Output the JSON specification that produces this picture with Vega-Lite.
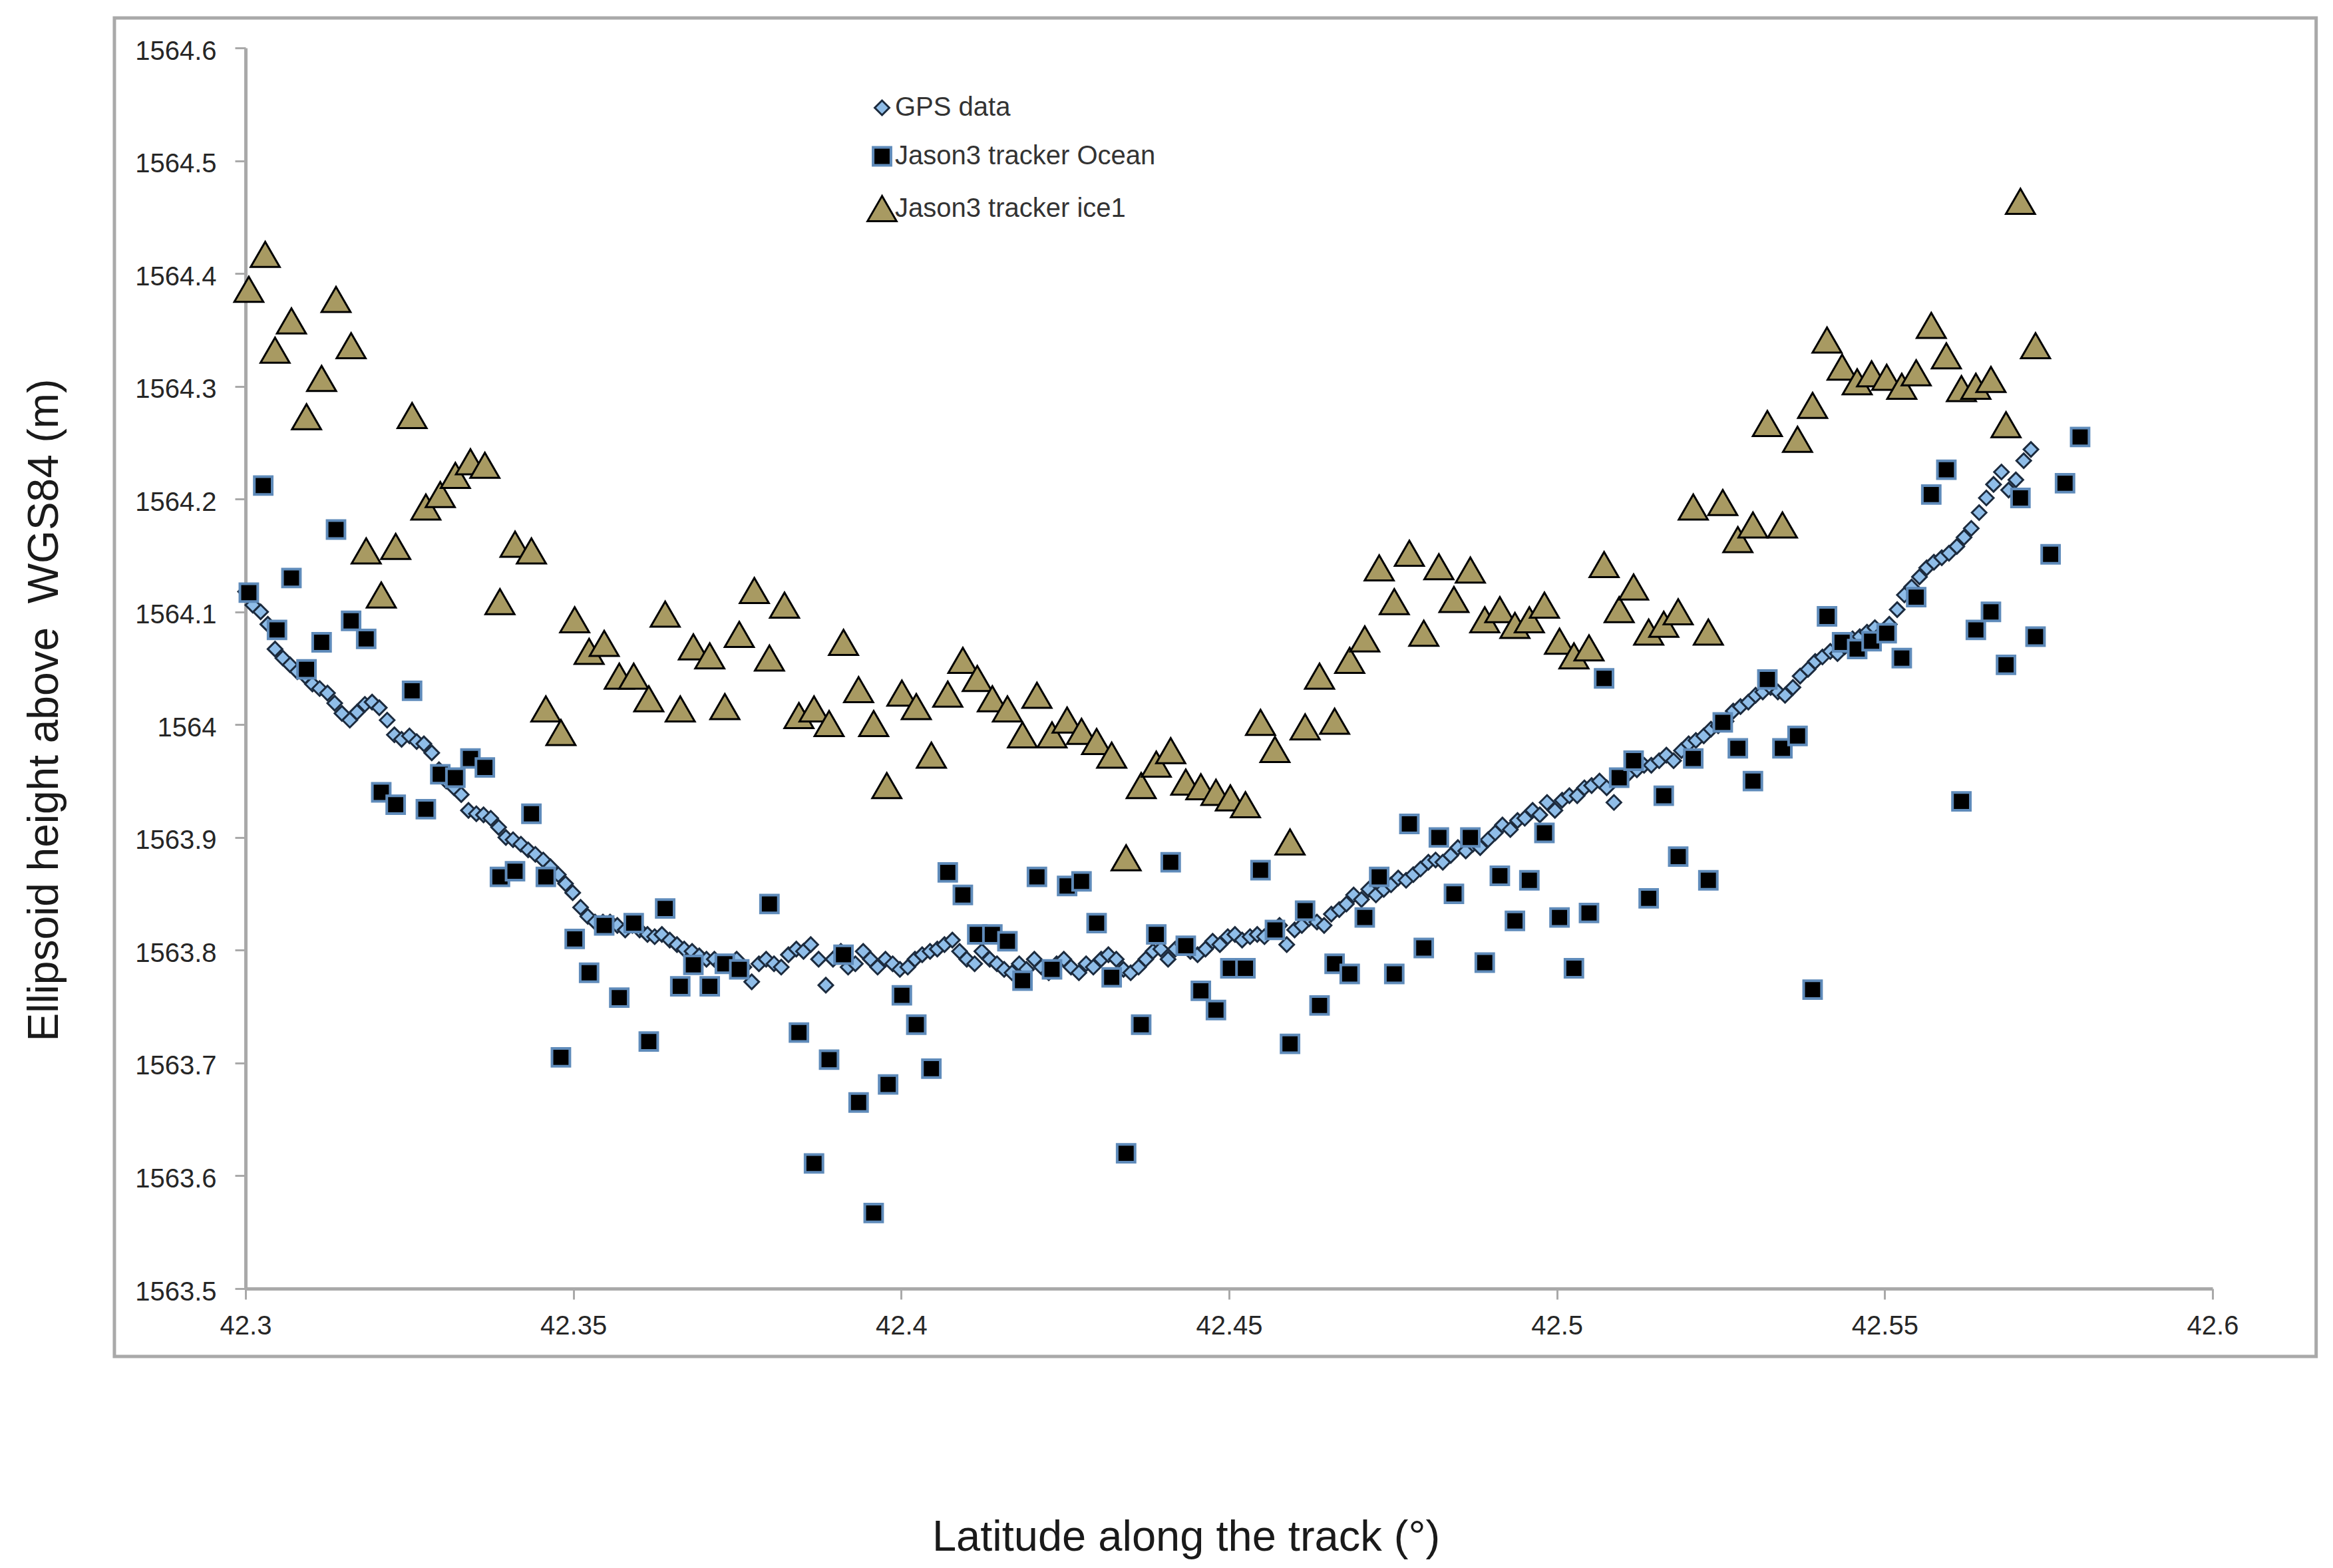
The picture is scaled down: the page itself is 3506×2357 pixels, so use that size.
{
  "$schema": "https://vega.github.io/schema/vega-lite/v6.json",
  "width": 2956,
  "height": 1865,
  "autosize": {"type": "none"},
  "padding": {"left": 369, "top": 72, "right": 181, "bottom": 420},
  "background": "white",
  "config": {
    "view": {"stroke": null},
    "font": "Liberation Sans"
  },
  "layer": [
    {
      "data": {"values": [{}]},
      "mark": {"type": "rect", "filled": false, "stroke": "#a9a9a9", "strokeWidth": 5},
      "encoding": {
        "x": {
          "datum": 42.28, "type": "quantitative",
          "scale": {"domain": [42.3, 42.6], "nice": false, "zero": false},
          "axis": {
            "title": "Latitude along the track (°)",
            "values": [42.3, 42.35, 42.4, 42.45, 42.5, 42.55, 42.6],
            "format": ".2~f",
            "grid": false,
            "domainColor": "#a9a9a9", "domainWidth": 5,
            "tickColor": "#a9a9a9", "tickWidth": 3, "tickSize": 16,
            "labelFont": "Liberation Sans", "labelFontSize": 40, "labelColor": "#262626",
            "labelPadding": 20, "labelFlush": false, "labelOverlap": false,
            "titleFont": "Liberation Sans", "titleFontSize": 65, "titleFontWeight": "normal", "titleColor": "#1a1a1a",
            "titleX": 1413, "titleY": 373, "titleBaseline": "middle", "titleAlign": "center"
          }
        },
        "x2": {"datum": 42.6158},
        "y": {
          "datum": 1563.4398, "type": "quantitative",
          "scale": {"domain": [1563.5, 1564.6], "nice": false, "zero": false},
          "axis": {
            "title": "Ellipsoid height above \u00a0WGS84 (m)",
            "values": [1563.5, 1563.6, 1563.7, 1563.8, 1563.9, 1564, 1564.1, 1564.2, 1564.3, 1564.4, 1564.5, 1564.6],
            "format": ".1~f",
            "grid": false,
            "domainColor": "#a9a9a9", "domainWidth": 5,
            "tickColor": "#a9a9a9", "tickWidth": 3, "tickSize": 16,
            "labelFont": "Liberation Sans", "labelFontSize": 40, "labelColor": "#262626",
            "labelPadding": 28, "labelOffset": 5, "labelOverlap": false,
            "titleFont": "Liberation Sans", "titleFontSize": 64, "titleFontWeight": "normal", "titleColor": "#1a1a1a",
            "titleAngle": -90, "titleX": -302, "titleY": 995, "titleBaseline": "middle", "titleAlign": "center"
          }
        },
        "y2": {"datum": 1564.6265}
      }
    },
    {
      "data": {"values": [
        {"series":"GPS data","lat":42.3000,"h":1564.118},{"series":"GPS data","lat":42.3011,"h":1564.106},{"series":"GPS data","lat":42.3023,"h":1564.100},{"series":"GPS data","lat":42.3034,"h":1564.089},{"series":"GPS data","lat":42.3045,"h":1564.067},{"series":"GPS data","lat":42.3057,"h":1564.059},{"series":"GPS data","lat":42.3068,"h":1564.053},{"series":"GPS data","lat":42.3079,"h":1564.047},{"series":"GPS data","lat":42.3091,"h":1564.043},{"series":"GPS data","lat":42.3102,"h":1564.036},
        {"series":"GPS data","lat":42.3113,"h":1564.032},{"series":"GPS data","lat":42.3125,"h":1564.028},{"series":"GPS data","lat":42.3136,"h":1564.019},{"series":"GPS data","lat":42.3147,"h":1564.010},{"series":"GPS data","lat":42.3159,"h":1564.004},{"series":"GPS data","lat":42.3170,"h":1564.011},{"series":"GPS data","lat":42.3182,"h":1564.018},{"series":"GPS data","lat":42.3193,"h":1564.020},{"series":"GPS data","lat":42.3204,"h":1564.015},{"series":"GPS data","lat":42.3216,"h":1564.004},
        {"series":"GPS data","lat":42.3227,"h":1563.991},{"series":"GPS data","lat":42.3238,"h":1563.987},{"series":"GPS data","lat":42.3250,"h":1563.990},{"series":"GPS data","lat":42.3261,"h":1563.985},{"series":"GPS data","lat":42.3272,"h":1563.983},{"series":"GPS data","lat":42.3284,"h":1563.975},{"series":"GPS data","lat":42.3295,"h":1563.960},{"series":"GPS data","lat":42.3306,"h":1563.950},{"series":"GPS data","lat":42.3318,"h":1563.944},{"series":"GPS data","lat":42.3329,"h":1563.938},
        {"series":"GPS data","lat":42.3340,"h":1563.924},{"series":"GPS data","lat":42.3352,"h":1563.921},{"series":"GPS data","lat":42.3363,"h":1563.920},{"series":"GPS data","lat":42.3374,"h":1563.917},{"series":"GPS data","lat":42.3386,"h":1563.909},{"series":"GPS data","lat":42.3397,"h":1563.900},{"series":"GPS data","lat":42.3408,"h":1563.898},{"series":"GPS data","lat":42.3420,"h":1563.894},{"series":"GPS data","lat":42.3431,"h":1563.889},{"series":"GPS data","lat":42.3442,"h":1563.885},
        {"series":"GPS data","lat":42.3454,"h":1563.880},{"series":"GPS data","lat":42.3465,"h":1563.874},{"series":"GPS data","lat":42.3477,"h":1563.867},{"series":"GPS data","lat":42.3488,"h":1563.859},{"series":"GPS data","lat":42.3499,"h":1563.851},{"series":"GPS data","lat":42.3511,"h":1563.838},{"series":"GPS data","lat":42.3522,"h":1563.830},{"series":"GPS data","lat":42.3533,"h":1563.825},{"series":"GPS data","lat":42.3545,"h":1563.825},{"series":"GPS data","lat":42.3556,"h":1563.825},
        {"series":"GPS data","lat":42.3567,"h":1563.822},{"series":"GPS data","lat":42.3579,"h":1563.818},{"series":"GPS data","lat":42.3590,"h":1563.822},{"series":"GPS data","lat":42.3601,"h":1563.818},{"series":"GPS data","lat":42.3613,"h":1563.814},{"series":"GPS data","lat":42.3624,"h":1563.812},{"series":"GPS data","lat":42.3635,"h":1563.814},{"series":"GPS data","lat":42.3647,"h":1563.809},{"series":"GPS data","lat":42.3658,"h":1563.805},{"series":"GPS data","lat":42.3669,"h":1563.801},
        {"series":"GPS data","lat":42.3681,"h":1563.799},{"series":"GPS data","lat":42.3692,"h":1563.795},{"series":"GPS data","lat":42.3703,"h":1563.792},{"series":"GPS data","lat":42.3715,"h":1563.792},{"series":"GPS data","lat":42.3726,"h":1563.788},{"series":"GPS data","lat":42.3737,"h":1563.788},{"series":"GPS data","lat":42.3749,"h":1563.792},{"series":"GPS data","lat":42.3760,"h":1563.785},{"series":"GPS data","lat":42.3772,"h":1563.772},{"series":"GPS data","lat":42.3783,"h":1563.788},
        {"series":"GPS data","lat":42.3794,"h":1563.792},{"series":"GPS data","lat":42.3806,"h":1563.788},{"series":"GPS data","lat":42.3817,"h":1563.785},{"series":"GPS data","lat":42.3828,"h":1563.796},{"series":"GPS data","lat":42.3840,"h":1563.801},{"series":"GPS data","lat":42.3851,"h":1563.799},{"series":"GPS data","lat":42.3862,"h":1563.805},{"series":"GPS data","lat":42.3874,"h":1563.792},{"series":"GPS data","lat":42.3885,"h":1563.769},{"series":"GPS data","lat":42.3896,"h":1563.792},
        {"series":"GPS data","lat":42.3908,"h":1563.799},{"series":"GPS data","lat":42.3919,"h":1563.785},{"series":"GPS data","lat":42.3930,"h":1563.788},{"series":"GPS data","lat":42.3942,"h":1563.799},{"series":"GPS data","lat":42.3953,"h":1563.792},{"series":"GPS data","lat":42.3964,"h":1563.785},{"series":"GPS data","lat":42.3976,"h":1563.792},{"series":"GPS data","lat":42.3987,"h":1563.788},{"series":"GPS data","lat":42.3998,"h":1563.783},{"series":"GPS data","lat":42.4010,"h":1563.785},
        {"series":"GPS data","lat":42.4021,"h":1563.792},{"series":"GPS data","lat":42.4032,"h":1563.796},{"series":"GPS data","lat":42.4044,"h":1563.799},{"series":"GPS data","lat":42.4055,"h":1563.801},{"series":"GPS data","lat":42.4066,"h":1563.805},{"series":"GPS data","lat":42.4078,"h":1563.809},{"series":"GPS data","lat":42.4089,"h":1563.799},{"series":"GPS data","lat":42.4100,"h":1563.792},{"series":"GPS data","lat":42.4112,"h":1563.788},{"series":"GPS data","lat":42.4123,"h":1563.799},
        {"series":"GPS data","lat":42.4135,"h":1563.792},{"series":"GPS data","lat":42.4146,"h":1563.788},{"series":"GPS data","lat":42.4157,"h":1563.783},{"series":"GPS data","lat":42.4169,"h":1563.780},{"series":"GPS data","lat":42.4180,"h":1563.788},{"series":"GPS data","lat":42.4191,"h":1563.783},{"series":"GPS data","lat":42.4203,"h":1563.792},{"series":"GPS data","lat":42.4214,"h":1563.785},{"series":"GPS data","lat":42.4225,"h":1563.780},{"series":"GPS data","lat":42.4237,"h":1563.788},
        {"series":"GPS data","lat":42.4248,"h":1563.792},{"series":"GPS data","lat":42.4259,"h":1563.785},{"series":"GPS data","lat":42.4271,"h":1563.780},{"series":"GPS data","lat":42.4282,"h":1563.788},{"series":"GPS data","lat":42.4293,"h":1563.785},{"series":"GPS data","lat":42.4305,"h":1563.792},{"series":"GPS data","lat":42.4316,"h":1563.796},{"series":"GPS data","lat":42.4328,"h":1563.792},{"series":"GPS data","lat":42.4339,"h":1563.783},{"series":"GPS data","lat":42.4350,"h":1563.780},
        {"series":"GPS data","lat":42.4362,"h":1563.785},{"series":"GPS data","lat":42.4373,"h":1563.792},{"series":"GPS data","lat":42.4384,"h":1563.799},{"series":"GPS data","lat":42.4396,"h":1563.801},{"series":"GPS data","lat":42.4407,"h":1563.792},{"series":"GPS data","lat":42.4418,"h":1563.801},{"series":"GPS data","lat":42.4430,"h":1563.805},{"series":"GPS data","lat":42.4441,"h":1563.799},{"series":"GPS data","lat":42.4452,"h":1563.796},{"series":"GPS data","lat":42.4464,"h":1563.801},
        {"series":"GPS data","lat":42.4475,"h":1563.808},{"series":"GPS data","lat":42.4486,"h":1563.805},{"series":"GPS data","lat":42.4498,"h":1563.812},{"series":"GPS data","lat":42.4509,"h":1563.814},{"series":"GPS data","lat":42.4520,"h":1563.809},{"series":"GPS data","lat":42.4532,"h":1563.812},{"series":"GPS data","lat":42.4543,"h":1563.814},{"series":"GPS data","lat":42.4554,"h":1563.812},{"series":"GPS data","lat":42.4566,"h":1563.818},{"series":"GPS data","lat":42.4577,"h":1563.822},
        {"series":"GPS data","lat":42.4588,"h":1563.805},{"series":"GPS data","lat":42.4600,"h":1563.818},{"series":"GPS data","lat":42.4611,"h":1563.822},{"series":"GPS data","lat":42.4622,"h":1563.828},{"series":"GPS data","lat":42.4634,"h":1563.825},{"series":"GPS data","lat":42.4645,"h":1563.822},{"series":"GPS data","lat":42.4656,"h":1563.832},{"series":"GPS data","lat":42.4668,"h":1563.836},{"series":"GPS data","lat":42.4679,"h":1563.841},{"series":"GPS data","lat":42.4690,"h":1563.849},
        {"series":"GPS data","lat":42.4702,"h":1563.845},{"series":"GPS data","lat":42.4713,"h":1563.854},{"series":"GPS data","lat":42.4724,"h":1563.849},{"series":"GPS data","lat":42.4736,"h":1563.854},{"series":"GPS data","lat":42.4747,"h":1563.858},{"series":"GPS data","lat":42.4758,"h":1563.864},{"series":"GPS data","lat":42.4770,"h":1563.862},{"series":"GPS data","lat":42.4781,"h":1563.867},{"series":"GPS data","lat":42.4792,"h":1563.872},{"series":"GPS data","lat":42.4804,"h":1563.878},
        {"series":"GPS data","lat":42.4815,"h":1563.880},{"series":"GPS data","lat":42.4826,"h":1563.878},{"series":"GPS data","lat":42.4838,"h":1563.884},{"series":"GPS data","lat":42.4849,"h":1563.891},{"series":"GPS data","lat":42.4861,"h":1563.888},{"series":"GPS data","lat":42.4872,"h":1563.894},{"series":"GPS data","lat":42.4883,"h":1563.891},{"series":"GPS data","lat":42.4895,"h":1563.898},{"series":"GPS data","lat":42.4906,"h":1563.904},{"series":"GPS data","lat":42.4917,"h":1563.911},
        {"series":"GPS data","lat":42.4929,"h":1563.907},{"series":"GPS data","lat":42.4940,"h":1563.915},{"series":"GPS data","lat":42.4951,"h":1563.917},{"series":"GPS data","lat":42.4963,"h":1563.924},{"series":"GPS data","lat":42.4974,"h":1563.920},{"series":"GPS data","lat":42.4985,"h":1563.931},{"series":"GPS data","lat":42.4997,"h":1563.924},{"series":"GPS data","lat":42.5008,"h":1563.933},{"series":"GPS data","lat":42.5019,"h":1563.937},{"series":"GPS data","lat":42.5031,"h":1563.937},
        {"series":"GPS data","lat":42.5042,"h":1563.944},{"series":"GPS data","lat":42.5053,"h":1563.946},{"series":"GPS data","lat":42.5065,"h":1563.950},{"series":"GPS data","lat":42.5076,"h":1563.944},{"series":"GPS data","lat":42.5087,"h":1563.931},{"series":"GPS data","lat":42.5099,"h":1563.954},{"series":"GPS data","lat":42.5110,"h":1563.957},{"series":"GPS data","lat":42.5122,"h":1563.960},{"series":"GPS data","lat":42.5133,"h":1563.964},{"series":"GPS data","lat":42.5144,"h":1563.964},
        {"series":"GPS data","lat":42.5156,"h":1563.968},{"series":"GPS data","lat":42.5167,"h":1563.973},{"series":"GPS data","lat":42.5178,"h":1563.968},{"series":"GPS data","lat":42.5190,"h":1563.977},{"series":"GPS data","lat":42.5201,"h":1563.983},{"series":"GPS data","lat":42.5212,"h":1563.986},{"series":"GPS data","lat":42.5224,"h":1563.990},{"series":"GPS data","lat":42.5235,"h":1563.996},{"series":"GPS data","lat":42.5246,"h":1563.999},{"series":"GPS data","lat":42.5258,"h":1564.003},
        {"series":"GPS data","lat":42.5269,"h":1564.012},{"series":"GPS data","lat":42.5280,"h":1564.016},{"series":"GPS data","lat":42.5292,"h":1564.020},{"series":"GPS data","lat":42.5303,"h":1564.026},{"series":"GPS data","lat":42.5314,"h":1564.029},{"series":"GPS data","lat":42.5326,"h":1564.033},{"series":"GPS data","lat":42.5337,"h":1564.029},{"series":"GPS data","lat":42.5348,"h":1564.026},{"series":"GPS data","lat":42.5360,"h":1564.033},{"series":"GPS data","lat":42.5371,"h":1564.043},
        {"series":"GPS data","lat":42.5383,"h":1564.049},{"series":"GPS data","lat":42.5394,"h":1564.056},{"series":"GPS data","lat":42.5405,"h":1564.060},{"series":"GPS data","lat":42.5417,"h":1564.065},{"series":"GPS data","lat":42.5428,"h":1564.063},{"series":"GPS data","lat":42.5439,"h":1564.069},{"series":"GPS data","lat":42.5451,"h":1564.076},{"series":"GPS data","lat":42.5462,"h":1564.078},{"series":"GPS data","lat":42.5473,"h":1564.082},{"series":"GPS data","lat":42.5485,"h":1564.086},
        {"series":"GPS data","lat":42.5496,"h":1564.082},{"series":"GPS data","lat":42.5507,"h":1564.089},{"series":"GPS data","lat":42.5519,"h":1564.102},{"series":"GPS data","lat":42.5530,"h":1564.115},{"series":"GPS data","lat":42.5541,"h":1564.122},{"series":"GPS data","lat":42.5553,"h":1564.131},{"series":"GPS data","lat":42.5564,"h":1564.139},{"series":"GPS data","lat":42.5575,"h":1564.144},{"series":"GPS data","lat":42.5587,"h":1564.148},{"series":"GPS data","lat":42.5598,"h":1564.152},
        {"series":"GPS data","lat":42.5610,"h":1564.158},{"series":"GPS data","lat":42.5621,"h":1564.166},{"series":"GPS data","lat":42.5632,"h":1564.174},{"series":"GPS data","lat":42.5644,"h":1564.188},{"series":"GPS data","lat":42.5655,"h":1564.201},{"series":"GPS data","lat":42.5666,"h":1564.213},{"series":"GPS data","lat":42.5678,"h":1564.224},{"series":"GPS data","lat":42.5689,"h":1564.208},{"series":"GPS data","lat":42.5700,"h":1564.217},{"series":"GPS data","lat":42.5712,"h":1564.234},
        {"series":"GPS data","lat":42.5723,"h":1564.244},

        {"series":"Jason3 tracker Ocean","lat":42.3005,"h":1564.117},{"series":"Jason3 tracker Ocean","lat":42.3027,"h":1564.212},{"series":"Jason3 tracker Ocean","lat":42.3048,"h":1564.084},{"series":"Jason3 tracker Ocean","lat":42.3070,"h":1564.130},{"series":"Jason3 tracker Ocean","lat":42.3093,"h":1564.049},{"series":"Jason3 tracker Ocean","lat":42.3116,"h":1564.073},{"series":"Jason3 tracker Ocean","lat":42.3138,"h":1564.173},{"series":"Jason3 tracker Ocean","lat":42.3161,"h":1564.092},{"series":"Jason3 tracker Ocean","lat":42.3184,"h":1564.076},{"series":"Jason3 tracker Ocean","lat":42.3207,"h":1563.940},
        {"series":"Jason3 tracker Ocean","lat":42.3229,"h":1563.929},{"series":"Jason3 tracker Ocean","lat":42.3254,"h":1564.030},{"series":"Jason3 tracker Ocean","lat":42.3275,"h":1563.925},{"series":"Jason3 tracker Ocean","lat":42.3297,"h":1563.956},{"series":"Jason3 tracker Ocean","lat":42.3320,"h":1563.953},{"series":"Jason3 tracker Ocean","lat":42.3343,"h":1563.970},{"series":"Jason3 tracker Ocean","lat":42.3365,"h":1563.962},{"series":"Jason3 tracker Ocean","lat":42.3388,"h":1563.865},{"series":"Jason3 tracker Ocean","lat":42.3411,"h":1563.870},{"series":"Jason3 tracker Ocean","lat":42.3436,"h":1563.921},
        {"series":"Jason3 tracker Ocean","lat":42.3458,"h":1563.865},{"series":"Jason3 tracker Ocean","lat":42.3481,"h":1563.705},{"series":"Jason3 tracker Ocean","lat":42.3502,"h":1563.810},{"series":"Jason3 tracker Ocean","lat":42.3524,"h":1563.780},{"series":"Jason3 tracker Ocean","lat":42.3547,"h":1563.822},{"series":"Jason3 tracker Ocean","lat":42.3570,"h":1563.758},{"series":"Jason3 tracker Ocean","lat":42.3592,"h":1563.824},{"series":"Jason3 tracker Ocean","lat":42.3615,"h":1563.719},{"series":"Jason3 tracker Ocean","lat":42.3640,"h":1563.837},{"series":"Jason3 tracker Ocean","lat":42.3663,"h":1563.768},
        {"series":"Jason3 tracker Ocean","lat":42.3683,"h":1563.787},{"series":"Jason3 tracker Ocean","lat":42.3708,"h":1563.768},{"series":"Jason3 tracker Ocean","lat":42.3731,"h":1563.788},{"series":"Jason3 tracker Ocean","lat":42.3753,"h":1563.783},{"series":"Jason3 tracker Ocean","lat":42.3799,"h":1563.841},{"series":"Jason3 tracker Ocean","lat":42.3844,"h":1563.727},{"series":"Jason3 tracker Ocean","lat":42.3867,"h":1563.611},{"series":"Jason3 tracker Ocean","lat":42.3890,"h":1563.703},{"series":"Jason3 tracker Ocean","lat":42.3912,"h":1563.796},{"series":"Jason3 tracker Ocean","lat":42.3935,"h":1563.665},
        {"series":"Jason3 tracker Ocean","lat":42.3958,"h":1563.567},{"series":"Jason3 tracker Ocean","lat":42.3980,"h":1563.681},{"series":"Jason3 tracker Ocean","lat":42.4001,"h":1563.760},{"series":"Jason3 tracker Ocean","lat":42.4023,"h":1563.734},{"series":"Jason3 tracker Ocean","lat":42.4046,"h":1563.695},{"series":"Jason3 tracker Ocean","lat":42.4071,"h":1563.869},{"series":"Jason3 tracker Ocean","lat":42.4094,"h":1563.849},{"series":"Jason3 tracker Ocean","lat":42.4116,"h":1563.814},{"series":"Jason3 tracker Ocean","lat":42.4139,"h":1563.814},{"series":"Jason3 tracker Ocean","lat":42.4162,"h":1563.808},
        {"series":"Jason3 tracker Ocean","lat":42.4185,"h":1563.773},{"series":"Jason3 tracker Ocean","lat":42.4207,"h":1563.865},{"series":"Jason3 tracker Ocean","lat":42.4230,"h":1563.783},{"series":"Jason3 tracker Ocean","lat":42.4253,"h":1563.857},{"series":"Jason3 tracker Ocean","lat":42.4275,"h":1563.861},{"series":"Jason3 tracker Ocean","lat":42.4298,"h":1563.824},{"series":"Jason3 tracker Ocean","lat":42.4321,"h":1563.776},{"series":"Jason3 tracker Ocean","lat":42.4343,"h":1563.620},{"series":"Jason3 tracker Ocean","lat":42.4366,"h":1563.734},{"series":"Jason3 tracker Ocean","lat":42.4389,"h":1563.814},
        {"series":"Jason3 tracker Ocean","lat":42.4411,"h":1563.878},{"series":"Jason3 tracker Ocean","lat":42.4434,"h":1563.804},{"series":"Jason3 tracker Ocean","lat":42.4457,"h":1563.764},{"series":"Jason3 tracker Ocean","lat":42.4480,"h":1563.747},{"series":"Jason3 tracker Ocean","lat":42.4502,"h":1563.784},{"series":"Jason3 tracker Ocean","lat":42.4525,"h":1563.784},{"series":"Jason3 tracker Ocean","lat":42.4548,"h":1563.871},{"series":"Jason3 tracker Ocean","lat":42.4570,"h":1563.818},{"series":"Jason3 tracker Ocean","lat":42.4593,"h":1563.717},{"series":"Jason3 tracker Ocean","lat":42.4616,"h":1563.835},
        {"series":"Jason3 tracker Ocean","lat":42.4638,"h":1563.751},{"series":"Jason3 tracker Ocean","lat":42.4661,"h":1563.788},{"series":"Jason3 tracker Ocean","lat":42.4684,"h":1563.779},{"series":"Jason3 tracker Ocean","lat":42.4707,"h":1563.829},{"series":"Jason3 tracker Ocean","lat":42.4729,"h":1563.865},{"series":"Jason3 tracker Ocean","lat":42.4752,"h":1563.779},{"series":"Jason3 tracker Ocean","lat":42.4775,"h":1563.912},{"series":"Jason3 tracker Ocean","lat":42.4797,"h":1563.802},{"series":"Jason3 tracker Ocean","lat":42.4820,"h":1563.900},{"series":"Jason3 tracker Ocean","lat":42.4843,"h":1563.850},
        {"series":"Jason3 tracker Ocean","lat":42.4868,"h":1563.900},{"series":"Jason3 tracker Ocean","lat":42.4890,"h":1563.789},{"series":"Jason3 tracker Ocean","lat":42.4913,"h":1563.866},{"series":"Jason3 tracker Ocean","lat":42.4936,"h":1563.826},{"series":"Jason3 tracker Ocean","lat":42.4958,"h":1563.862},{"series":"Jason3 tracker Ocean","lat":42.4981,"h":1563.904},{"series":"Jason3 tracker Ocean","lat":42.5004,"h":1563.829},{"series":"Jason3 tracker Ocean","lat":42.5026,"h":1563.784},{"series":"Jason3 tracker Ocean","lat":42.5049,"h":1563.833},{"series":"Jason3 tracker Ocean","lat":42.5072,"h":1564.041},
        {"series":"Jason3 tracker Ocean","lat":42.5095,"h":1563.953},{"series":"Jason3 tracker Ocean","lat":42.5117,"h":1563.968},{"series":"Jason3 tracker Ocean","lat":42.5140,"h":1563.846},{"series":"Jason3 tracker Ocean","lat":42.5163,"h":1563.937},{"series":"Jason3 tracker Ocean","lat":42.5185,"h":1563.883},{"series":"Jason3 tracker Ocean","lat":42.5208,"h":1563.970},{"series":"Jason3 tracker Ocean","lat":42.5231,"h":1563.862},{"series":"Jason3 tracker Ocean","lat":42.5253,"h":1564.002},{"series":"Jason3 tracker Ocean","lat":42.5276,"h":1563.979},{"series":"Jason3 tracker Ocean","lat":42.5299,"h":1563.950},
        {"series":"Jason3 tracker Ocean","lat":42.5321,"h":1564.040},{"series":"Jason3 tracker Ocean","lat":42.5344,"h":1563.979},{"series":"Jason3 tracker Ocean","lat":42.5367,"h":1563.990},{"series":"Jason3 tracker Ocean","lat":42.5390,"h":1563.765},{"series":"Jason3 tracker Ocean","lat":42.5412,"h":1564.096},{"series":"Jason3 tracker Ocean","lat":42.5435,"h":1564.073},{"series":"Jason3 tracker Ocean","lat":42.5458,"h":1564.067},{"series":"Jason3 tracker Ocean","lat":42.5480,"h":1564.074},{"series":"Jason3 tracker Ocean","lat":42.5503,"h":1564.081},{"series":"Jason3 tracker Ocean","lat":42.5526,"h":1564.059},
        {"series":"Jason3 tracker Ocean","lat":42.5548,"h":1564.113},{"series":"Jason3 tracker Ocean","lat":42.5571,"h":1564.204},{"series":"Jason3 tracker Ocean","lat":42.5594,"h":1564.226},{"series":"Jason3 tracker Ocean","lat":42.5617,"h":1563.932},{"series":"Jason3 tracker Ocean","lat":42.5639,"h":1564.084},{"series":"Jason3 tracker Ocean","lat":42.5662,"h":1564.100},{"series":"Jason3 tracker Ocean","lat":42.5685,"h":1564.053},{"series":"Jason3 tracker Ocean","lat":42.5707,"h":1564.201},{"series":"Jason3 tracker Ocean","lat":42.5730,"h":1564.078},{"series":"Jason3 tracker Ocean","lat":42.5753,"h":1564.151},
        {"series":"Jason3 tracker Ocean","lat":42.5775,"h":1564.214},{"series":"Jason3 tracker Ocean","lat":42.5798,"h":1564.255},

        {"series":"Jason3 tracker ice1","lat":42.3005,"h":1564.386},{"series":"Jason3 tracker ice1","lat":42.3030,"h":1564.417},{"series":"Jason3 tracker ice1","lat":42.3045,"h":1564.332},{"series":"Jason3 tracker ice1","lat":42.3070,"h":1564.358},{"series":"Jason3 tracker ice1","lat":42.3093,"h":1564.273},{"series":"Jason3 tracker ice1","lat":42.3116,"h":1564.307},{"series":"Jason3 tracker ice1","lat":42.3138,"h":1564.377},{"series":"Jason3 tracker ice1","lat":42.3161,"h":1564.336},{"series":"Jason3 tracker ice1","lat":42.3184,"h":1564.154},{"series":"Jason3 tracker ice1","lat":42.3207,"h":1564.115},
        {"series":"Jason3 tracker ice1","lat":42.3229,"h":1564.158},{"series":"Jason3 tracker ice1","lat":42.3254,"h":1564.274},{"series":"Jason3 tracker ice1","lat":42.3275,"h":1564.193},{"series":"Jason3 tracker ice1","lat":42.3297,"h":1564.204},{"series":"Jason3 tracker ice1","lat":42.3320,"h":1564.221},{"series":"Jason3 tracker ice1","lat":42.3343,"h":1564.233},{"series":"Jason3 tracker ice1","lat":42.3365,"h":1564.230},{"series":"Jason3 tracker ice1","lat":42.3388,"h":1564.109},{"series":"Jason3 tracker ice1","lat":42.3411,"h":1564.160},{"series":"Jason3 tracker ice1","lat":42.3436,"h":1564.154},
        {"series":"Jason3 tracker ice1","lat":42.3458,"h":1564.014},{"series":"Jason3 tracker ice1","lat":42.3481,"h":1563.993},{"series":"Jason3 tracker ice1","lat":42.3502,"h":1564.093},{"series":"Jason3 tracker ice1","lat":42.3524,"h":1564.065},{"series":"Jason3 tracker ice1","lat":42.3547,"h":1564.072},{"series":"Jason3 tracker ice1","lat":42.3570,"h":1564.043},{"series":"Jason3 tracker ice1","lat":42.3592,"h":1564.043},{"series":"Jason3 tracker ice1","lat":42.3615,"h":1564.023},{"series":"Jason3 tracker ice1","lat":42.3640,"h":1564.098},{"series":"Jason3 tracker ice1","lat":42.3663,"h":1564.014},
        {"series":"Jason3 tracker ice1","lat":42.3683,"h":1564.069},{"series":"Jason3 tracker ice1","lat":42.3708,"h":1564.061},{"series":"Jason3 tracker ice1","lat":42.3731,"h":1564.016},{"series":"Jason3 tracker ice1","lat":42.3753,"h":1564.080},{"series":"Jason3 tracker ice1","lat":42.3776,"h":1564.119},{"series":"Jason3 tracker ice1","lat":42.3799,"h":1564.059},{"series":"Jason3 tracker ice1","lat":42.3822,"h":1564.106},{"series":"Jason3 tracker ice1","lat":42.3844,"h":1564.008},{"series":"Jason3 tracker ice1","lat":42.3867,"h":1564.014},{"series":"Jason3 tracker ice1","lat":42.3890,"h":1564.001},
        {"series":"Jason3 tracker ice1","lat":42.3912,"h":1564.073},{"series":"Jason3 tracker ice1","lat":42.3935,"h":1564.031},{"series":"Jason3 tracker ice1","lat":42.3958,"h":1564.001},{"series":"Jason3 tracker ice1","lat":42.3978,"h":1563.946},{"series":"Jason3 tracker ice1","lat":42.4001,"h":1564.028},{"series":"Jason3 tracker ice1","lat":42.4023,"h":1564.016},{"series":"Jason3 tracker ice1","lat":42.4046,"h":1563.973},{"series":"Jason3 tracker ice1","lat":42.4071,"h":1564.027},{"series":"Jason3 tracker ice1","lat":42.4094,"h":1564.057},{"series":"Jason3 tracker ice1","lat":42.4116,"h":1564.041},
        {"series":"Jason3 tracker ice1","lat":42.4139,"h":1564.023},{"series":"Jason3 tracker ice1","lat":42.4162,"h":1564.014},{"series":"Jason3 tracker ice1","lat":42.4185,"h":1563.991},{"series":"Jason3 tracker ice1","lat":42.4207,"h":1564.026},{"series":"Jason3 tracker ice1","lat":42.4230,"h":1563.991},{"series":"Jason3 tracker ice1","lat":42.4253,"h":1564.004},{"series":"Jason3 tracker ice1","lat":42.4275,"h":1563.994},{"series":"Jason3 tracker ice1","lat":42.4298,"h":1563.985},{"series":"Jason3 tracker ice1","lat":42.4321,"h":1563.973},{"series":"Jason3 tracker ice1","lat":42.4343,"h":1563.882},
        {"series":"Jason3 tracker ice1","lat":42.4366,"h":1563.946},{"series":"Jason3 tracker ice1","lat":42.4389,"h":1563.965},{"series":"Jason3 tracker ice1","lat":42.4411,"h":1563.977},{"series":"Jason3 tracker ice1","lat":42.4434,"h":1563.949},{"series":"Jason3 tracker ice1","lat":42.4457,"h":1563.945},{"series":"Jason3 tracker ice1","lat":42.4480,"h":1563.940},{"series":"Jason3 tracker ice1","lat":42.4502,"h":1563.935},{"series":"Jason3 tracker ice1","lat":42.4525,"h":1563.929},{"series":"Jason3 tracker ice1","lat":42.4548,"h":1564.002},{"series":"Jason3 tracker ice1","lat":42.4570,"h":1563.978},
        {"series":"Jason3 tracker ice1","lat":42.4593,"h":1563.896},{"series":"Jason3 tracker ice1","lat":42.4616,"h":1563.998},{"series":"Jason3 tracker ice1","lat":42.4638,"h":1564.043},{"series":"Jason3 tracker ice1","lat":42.4661,"h":1564.003},{"series":"Jason3 tracker ice1","lat":42.4684,"h":1564.057},{"series":"Jason3 tracker ice1","lat":42.4707,"h":1564.076},{"series":"Jason3 tracker ice1","lat":42.4729,"h":1564.139},{"series":"Jason3 tracker ice1","lat":42.4752,"h":1564.109},{"series":"Jason3 tracker ice1","lat":42.4775,"h":1564.152},{"series":"Jason3 tracker ice1","lat":42.4797,"h":1564.081},
        {"series":"Jason3 tracker ice1","lat":42.4820,"h":1564.140},{"series":"Jason3 tracker ice1","lat":42.4843,"h":1564.111},{"series":"Jason3 tracker ice1","lat":42.4868,"h":1564.137},{"series":"Jason3 tracker ice1","lat":42.4890,"h":1564.093},{"series":"Jason3 tracker ice1","lat":42.4913,"h":1564.102},{"series":"Jason3 tracker ice1","lat":42.4936,"h":1564.088},{"series":"Jason3 tracker ice1","lat":42.4958,"h":1564.093},{"series":"Jason3 tracker ice1","lat":42.4981,"h":1564.106},{"series":"Jason3 tracker ice1","lat":42.5004,"h":1564.074},{"series":"Jason3 tracker ice1","lat":42.5026,"h":1564.061},
        {"series":"Jason3 tracker ice1","lat":42.5049,"h":1564.068},{"series":"Jason3 tracker ice1","lat":42.5072,"h":1564.142},{"series":"Jason3 tracker ice1","lat":42.5095,"h":1564.102},{"series":"Jason3 tracker ice1","lat":42.5117,"h":1564.122},{"series":"Jason3 tracker ice1","lat":42.5140,"h":1564.082},{"series":"Jason3 tracker ice1","lat":42.5163,"h":1564.089},{"series":"Jason3 tracker ice1","lat":42.5185,"h":1564.100},{"series":"Jason3 tracker ice1","lat":42.5208,"h":1564.193},{"series":"Jason3 tracker ice1","lat":42.5231,"h":1564.082},{"series":"Jason3 tracker ice1","lat":42.5253,"h":1564.197},
        {"series":"Jason3 tracker ice1","lat":42.5276,"h":1564.164},{"series":"Jason3 tracker ice1","lat":42.5299,"h":1564.177},{"series":"Jason3 tracker ice1","lat":42.5321,"h":1564.267},{"series":"Jason3 tracker ice1","lat":42.5344,"h":1564.177},{"series":"Jason3 tracker ice1","lat":42.5367,"h":1564.253},{"series":"Jason3 tracker ice1","lat":42.5390,"h":1564.283},{"series":"Jason3 tracker ice1","lat":42.5412,"h":1564.341},{"series":"Jason3 tracker ice1","lat":42.5435,"h":1564.317},{"series":"Jason3 tracker ice1","lat":42.5458,"h":1564.304},{"series":"Jason3 tracker ice1","lat":42.5480,"h":1564.311},
        {"series":"Jason3 tracker ice1","lat":42.5503,"h":1564.308},{"series":"Jason3 tracker ice1","lat":42.5526,"h":1564.300},{"series":"Jason3 tracker ice1","lat":42.5548,"h":1564.312},{"series":"Jason3 tracker ice1","lat":42.5571,"h":1564.354},{"series":"Jason3 tracker ice1","lat":42.5594,"h":1564.327},{"series":"Jason3 tracker ice1","lat":42.5617,"h":1564.298},{"series":"Jason3 tracker ice1","lat":42.5639,"h":1564.300},{"series":"Jason3 tracker ice1","lat":42.5662,"h":1564.306},{"series":"Jason3 tracker ice1","lat":42.5685,"h":1564.266},{"series":"Jason3 tracker ice1","lat":42.5707,"h":1564.464},
        {"series":"Jason3 tracker ice1","lat":42.5730,"h":1564.336}
      ]},
      "mark": {"type": "point", "filled": true, "opacity": 1},
      "encoding": {
        "x": {
          "field": "lat", "type": "quantitative",
          "scale": {"domain": [42.3, 42.6], "nice": false, "zero": false},
          "axis": {
            "title": "Latitude along the track (°)",
            "values": [42.3, 42.35, 42.4, 42.45, 42.5, 42.55, 42.6],
            "format": ".2~f",
            "grid": false,
            "domainColor": "#a9a9a9", "domainWidth": 5,
            "tickColor": "#a9a9a9", "tickWidth": 3, "tickSize": 16,
            "labelFont": "Liberation Sans", "labelFontSize": 40, "labelColor": "#262626",
            "labelPadding": 20, "labelFlush": false, "labelOverlap": false,
            "titleFont": "Liberation Sans", "titleFontSize": 65, "titleFontWeight": "normal", "titleColor": "#1a1a1a",
            "titleX": 1413, "titleY": 373, "titleBaseline": "middle", "titleAlign": "center"
          }
        },
        "y": {
          "field": "h", "type": "quantitative",
          "scale": {"domain": [1563.5, 1564.6], "nice": false, "zero": false},
          "axis": {
            "title": "Ellipsoid height above \u00a0WGS84 (m)",
            "values": [1563.5, 1563.6, 1563.7, 1563.8, 1563.9, 1564, 1564.1, 1564.2, 1564.3, 1564.4, 1564.5, 1564.6],
            "format": ".1~f",
            "grid": false,
            "domainColor": "#a9a9a9", "domainWidth": 5,
            "tickColor": "#a9a9a9", "tickWidth": 3, "tickSize": 16,
            "labelFont": "Liberation Sans", "labelFontSize": 40, "labelColor": "#262626",
            "labelPadding": 28, "labelOffset": 5, "labelOverlap": false,
            "titleFont": "Liberation Sans", "titleFontSize": 64, "titleFontWeight": "normal", "titleColor": "#1a1a1a",
            "titleAngle": -90, "titleX": -302, "titleY": 995, "titleBaseline": "middle", "titleAlign": "center"
          }
        },
        "shape": {
          "field": "series", "type": "nominal", "title": null,
          "scale": {"domain": ["GPS data", "Jason3 tracker Ocean", "Jason3 tracker ice1"], "range": ["diamond", "square", "triangle-up"]}
        },
        "fill": {
          "field": "series", "type": "nominal", "title": null,
          "scale": {"domain": ["GPS data", "Jason3 tracker Ocean", "Jason3 tracker ice1"], "range": ["#8fbde8", "#000000", "#a89a62"]},
          "legend": {
            "orient": "none", "legendX": 933, "legendY": 70,
            "padding": 0, "rowPadding": 31, "labelOffset": -4,
            "labelFont": "Liberation Sans", "labelFontSize": 40, "labelColor": "#333333",
            "labelLimit": 0,
            "encode": {
              "symbols": {
                "update": {
                  "size": {"signal": "datum.value === 'GPS data' ? 460 : datum.value === 'Jason3 tracker Ocean' ? 760 : 950"}
                }
              }
            }
          }
        },
        "stroke": {
          "field": "series", "type": "nominal", "title": null,
          "scale": {"domain": ["GPS data", "Jason3 tracker Ocean", "Jason3 tracker ice1"], "range": ["#1c2b3e", "#5f8bba", "#000000"]}
        },
        "size": {
          "field": "series", "type": "nominal", "title": null,
          "scale": {"type": "ordinal", "domain": ["GPS data", "Jason3 tracker Ocean", "Jason3 tracker ice1"], "range": [480, 720, 1900]}
        },
        "strokeWidth": {
          "field": "series", "type": "nominal", "title": null,
          "scale": {"type": "ordinal", "domain": ["GPS data", "Jason3 tracker Ocean", "Jason3 tracker ice1"], "range": [3, 4, 3]}
        }
      }
    }
  ]
}
